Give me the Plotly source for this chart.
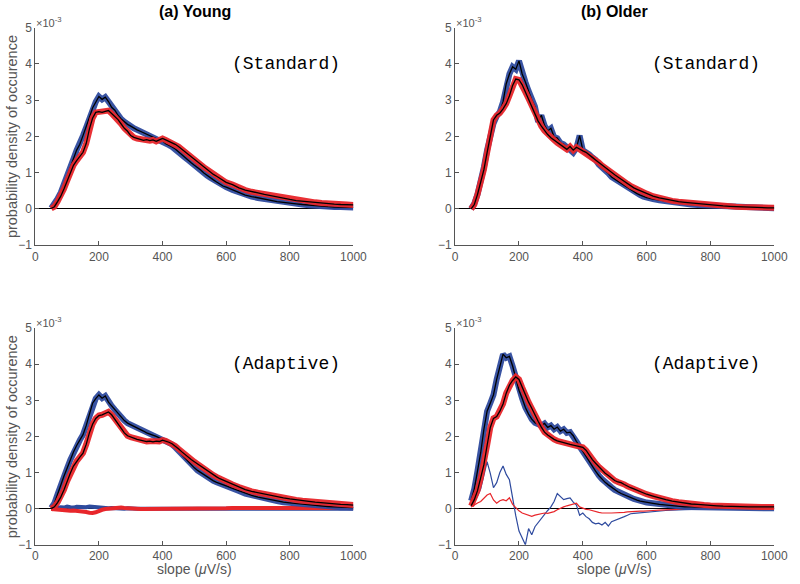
import plotly.graph_objects as go

# ---------------- data (values in units of 1e-3) ----------------
X = list(range(50, 601, 10)) + list(range(620, 1001, 20))

young_std_blue = [0.02, 0.12, 0.28, 0.45, 0.66, 0.90, 1.12, 1.38, 1.62, 1.78,
                  2.02, 2.25, 2.52, 2.78, 2.95, 3.10, 3.02, 3.08, 2.96, 2.80,
                  2.72, 2.58, 2.48, 2.40, 2.33, 2.28, 2.22, 2.18, 2.14, 2.10,
                  2.05, 2.02, 1.98, 1.94, 1.92, 1.88, 1.80, 1.76, 1.71, 1.65,
                  1.57, 1.50, 1.42, 1.35, 1.27, 1.20, 1.14, 1.07, 0.99, 0.92,
                  0.86, 0.80, 0.74, 0.68, 0.63, 0.60,
                  0.52, 0.45, 0.38, 0.34, 0.30, 0.27, 0.23, 0.20, 0.18, 0.15,
                  0.14, 0.12, 0.10, 0.08, 0.07, 0.06, 0.05, 0.05, 0.04, 0.04]
young_std_red = [0.01, 0.06, 0.20, 0.35, 0.55, 0.77, 1.00, 1.20, 1.33, 1.45,
                 1.56, 1.80, 2.20, 2.50, 2.66, 2.68, 2.66, 2.69, 2.71, 2.63,
                 2.55, 2.46, 2.34, 2.22, 2.14, 2.02, 1.97, 1.94, 1.92, 1.89,
                 1.91, 1.88, 1.90, 1.86, 1.90, 1.94, 1.90, 1.86, 1.84, 1.78,
                 1.72, 1.65, 1.57, 1.49, 1.42, 1.35, 1.30, 1.22, 1.15, 1.09,
                 1.02, 0.95, 0.90, 0.84, 0.78, 0.73,
                 0.67, 0.58, 0.52, 0.47, 0.44, 0.40, 0.36, 0.33, 0.29, 0.26,
                 0.23, 0.21, 0.19, 0.18, 0.16, 0.14, 0.13, 0.12, 0.12, 0.11]

young_ada_blue = [0.02, 0.15, 0.40, 0.68, 0.90, 1.12, 1.35, 1.57, 1.75, 1.90,
                  2.05, 2.30, 2.65, 2.92, 3.05, 3.15, 3.06, 3.12, 2.95, 2.85,
                  2.74, 2.62, 2.52, 2.44, 2.37, 2.33, 2.28, 2.24, 2.19, 2.15,
                  2.10, 2.07, 2.05, 2.00, 1.96, 1.94, 1.90, 1.86, 1.78, 1.70,
                  1.61, 1.50, 1.40, 1.30, 1.22, 1.13, 1.06, 1.00, 0.93, 0.87,
                  0.82, 0.77, 0.73, 0.69, 0.66, 0.63,
                  0.56, 0.49, 0.42, 0.37, 0.32, 0.28, 0.24, 0.21, 0.18, 0.16,
                  0.14, 0.12, 0.10, 0.08, 0.07, 0.06, 0.05, 0.04, 0.04, 0.03]
young_ada_red = [0.00, 0.05, 0.17, 0.32, 0.52, 0.76, 0.98, 1.18, 1.32, 1.43,
                 1.54, 1.78, 2.10, 2.34, 2.50, 2.58, 2.60, 2.64, 2.68, 2.60,
                 2.48, 2.36, 2.22, 2.10, 2.02, 1.98, 1.95, 1.92, 1.90, 1.88,
                 1.86, 1.87, 1.85, 1.87, 1.86, 1.90, 1.88, 1.84, 1.80, 1.74,
                 1.66, 1.58, 1.50, 1.44, 1.36, 1.30, 1.24, 1.17, 1.10, 1.04,
                 0.98, 0.93, 0.88, 0.83, 0.79, 0.76,
                 0.67, 0.60, 0.53, 0.48, 0.44, 0.40, 0.36, 0.33, 0.30, 0.27,
                 0.24, 0.22, 0.20, 0.18, 0.16, 0.15, 0.13, 0.12, 0.11, 0.10]
young_diff_blue = [0.00, 0.02, 0.03, 0.04, 0.03, 0.06, 0.04, 0.03, 0.05, 0.04,
                   0.05, 0.04, 0.06, 0.05, 0.03, 0.02, 0.03, 0.02, 0.01, 0.02,
                   0.01, 0.00, 0.01, 0.00, 0.01, 0.00, 0.01, 0.00, 0.00, 0.01,
                   0.00, 0.00, 0.01, 0.00, 0.00, 0.00, 0.01, 0.00, 0.00, 0.00,
                   0.00, 0.00, 0.00, 0.00, 0.00, 0.00, 0.00, 0.00, 0.00, 0.00,
                   0.00, 0.00, 0.00, 0.00, 0.00, 0.00,
                   0.00, 0.00, 0.00, 0.00, 0.00, 0.00, 0.00, 0.00, 0.00, 0.00,
                   0.00, 0.00, 0.00, 0.00, 0.00, 0.00, 0.00, 0.00, 0.00, 0.00]
young_diff_red = [-0.01, -0.02, -0.04, -0.05, -0.06, -0.07, -0.06, -0.05, -0.06, -0.05,
                  -0.06, -0.09, -0.11, -0.12, -0.10, -0.06, -0.03, -0.01, 0.00, 0.01,
                  0.02, 0.02, 0.03, 0.02, 0.01, 0.00, -0.01, -0.01, -0.01, -0.01,
                  -0.01, -0.01, -0.01, -0.01, -0.01, -0.01, -0.01, -0.01, -0.01, -0.01,
                  -0.01, 0.00, 0.00, 0.00, 0.00, 0.00, 0.01, 0.01, 0.01, 0.01,
                  0.01, 0.01, 0.01, 0.01, 0.01, 0.01,
                  0.02, 0.02, 0.02, 0.02, 0.02, 0.02, 0.02, 0.02, 0.02, 0.02,
                  0.02, 0.02, 0.02, 0.02, 0.02, 0.02, 0.02, 0.02, 0.02, 0.02]

older_std_blue = [0.00, 0.15, 0.40, 0.72, 1.15, 1.62, 2.00, 2.35, 2.55, 2.68,
                  2.95, 3.45, 3.72, 3.92, 3.85, 4.08, 3.72, 3.50, 3.25, 3.00,
                  2.82, 2.40, 2.58, 2.30, 2.15, 2.22, 1.98, 1.95, 1.82, 1.78,
                  1.70, 1.62, 1.55, 1.68, 2.02, 1.62, 1.58, 1.50, 1.42, 1.35,
                  1.22, 1.15, 1.06, 0.98, 0.88, 0.82, 0.76, 0.72, 0.64, 0.58,
                  0.52, 0.48, 0.42, 0.38, 0.34, 0.31,
                  0.27, 0.24, 0.21, 0.18, 0.16, 0.14, 0.12, 0.11, 0.10, 0.08,
                  0.07, 0.06, 0.05, 0.04, 0.04, 0.03, 0.03, 0.02, 0.02, 0.02]
older_std_red = [0.00, 0.12, 0.40, 0.72, 1.08, 1.55, 2.05, 2.45, 2.58, 2.64,
                 2.76, 2.90, 3.12, 3.40, 3.58, 3.56, 3.42, 3.22, 3.04, 2.85,
                 2.64, 2.42, 2.28, 2.15, 2.05, 1.96, 1.90, 1.82, 1.76, 1.70,
                 1.64, 1.72, 1.62, 1.70, 1.64, 1.60, 1.56, 1.48, 1.42, 1.35,
                 1.28, 1.20, 1.13, 1.07, 1.00, 0.94, 0.88, 0.82, 0.75, 0.69,
                 0.63, 0.58, 0.54, 0.50, 0.45, 0.42,
                 0.35, 0.30, 0.26, 0.22, 0.20, 0.18, 0.16, 0.14, 0.13, 0.11,
                 0.09, 0.08, 0.07, 0.06, 0.05, 0.04, 0.04, 0.03, 0.03, 0.03]

older_ada_blue = [0.22, 0.55, 1.05, 1.55, 2.20, 2.70, 2.92, 3.15, 3.58, 3.92,
                  4.28, 4.18, 4.22, 3.95, 3.62, 3.28, 3.05, 2.80, 2.62, 2.48,
                  2.38, 2.34, 2.30, 2.36, 2.25, 2.30, 2.20, 2.26, 2.15, 2.20,
                  2.10, 2.12, 2.02, 1.86, 1.72, 1.58, 1.43, 1.30, 1.16, 1.04,
                  0.92, 0.82, 0.73, 0.66, 0.59, 0.52, 0.47, 0.42, 0.38, 0.34,
                  0.31, 0.27, 0.24, 0.21, 0.19, 0.17,
                  0.15, 0.12, 0.10, 0.08, 0.07, 0.05, 0.05, 0.04, 0.04, 0.03,
                  0.03, 0.03, 0.02, 0.02, 0.02, 0.02, 0.02, 0.02, 0.01, 0.01]
older_ada_red = [0.08, 0.25, 0.50, 0.85, 1.22, 1.75, 2.25, 2.50, 2.55, 2.70,
                 2.90, 3.20, 3.42, 3.55, 3.65, 3.58, 3.36, 3.12, 2.95, 2.78,
                 2.58, 2.42, 2.26, 2.12, 2.04, 1.97, 1.92, 1.88, 1.85, 1.82,
                 1.80, 1.78, 1.76, 1.74, 1.72, 1.70, 1.62, 1.48, 1.36, 1.26,
                 1.16, 1.08, 0.98, 0.92, 0.84, 0.78, 0.74, 0.72, 0.67, 0.62,
                 0.58, 0.55, 0.51, 0.47, 0.43, 0.40,
                 0.35, 0.29, 0.25, 0.21, 0.18, 0.15, 0.13, 0.12, 0.10, 0.09,
                 0.08, 0.07, 0.06, 0.06, 0.05, 0.05, 0.05, 0.05, 0.05, 0.05]
older_diff_blue = [0.05, 0.20, 0.35, 0.55, 0.95, 1.30, 0.98, 0.58, 0.72, 1.00,
                   1.18, 0.95, 0.80, 0.25, -0.20, -0.62, -0.80, -1.00, -0.55, -0.72,
                   -0.50, -0.38, -0.26, -0.15, -0.05, 0.05, 0.20, 0.42, 0.32, 0.25,
                   0.28, 0.30, 0.18, 0.10, -0.18, -0.12, -0.22, -0.28, -0.38, -0.42,
                   -0.40, -0.45, -0.38, -0.48, -0.36, -0.33, -0.30, -0.26, -0.22, -0.18,
                   -0.14, -0.13, -0.12, -0.11, -0.10, -0.09,
                   -0.08, -0.06, -0.05, -0.04, -0.03, -0.02, -0.02, -0.01, 0.00, 0.00,
                   0.00, 0.00, 0.00, 0.00, 0.00, 0.00, 0.00, 0.00, 0.00, 0.00]
older_diff_red = [0.05, 0.11, 0.16, 0.20, 0.30, 0.38, 0.42, 0.24, 0.15, 0.22,
                  0.25, 0.22, 0.30, 0.12, 0.03, -0.06, -0.12, -0.15, -0.18, -0.21,
                  -0.18, -0.16, -0.14, -0.12, -0.13, -0.11, -0.08, -0.03, 0.02, 0.05,
                  0.08, 0.10, 0.12, 0.15, 0.05, 0.01, -0.02, -0.03, -0.06, -0.08,
                  -0.10, -0.12, -0.11, -0.12, -0.12, -0.12, -0.11, -0.12, -0.10, -0.09,
                  -0.08, -0.08, -0.08, -0.07, -0.07, -0.06,
                  -0.05, -0.04, -0.03, -0.02, -0.02, -0.01, -0.01, 0.00, 0.00, 0.00,
                  0.00, 0.00, 0.00, 0.00, 0.00, 0.00, 0.00, 0.00, 0.00, 0.00]

X_TICKS = [0, 200, 400, 600, 800, 1000]
Y_TICKS = [-1, 0, 1, 2, 3, 4, 5]
COLUMN_TITLES = ["(a) Young", "(b) Older"]
CONDITION_LABELS = ["(Standard)", "(Adaptive)"]

# ---------------- styling ----------------
BLUE = "#2f4b9f"
RED = "#e8262b"
AXC = "#555555"
FONT = "Liberation Sans, Arial, Helvetica, sans-serif"

fig = go.Figure()

panels = [
    ("", [0.04125, 0.4475], [0.5822, 0.964], young_std_blue, young_std_red, None, None, None),
    ("2", [0.5775, 0.985], [0.5822, 0.964], older_std_blue, older_std_red, None, None, None),
    ("3", [0.04125, 0.4475], [0.0565, 0.4366], young_ada_blue, young_ada_red,
     young_diff_blue, young_diff_red, 4),
    ("4", [0.5775, 0.985], [0.0565, 0.4366], older_ada_blue, older_ada_red,
     older_diff_blue, older_diff_red, 1.2),
]

for i, (s, xd, yd, mb, mr, db, dr, dw) in enumerate(panels):
    xa, ya = "x" + s, "y" + s
    if db is not None:
        fig.add_trace(go.Scatter(x=X, y=db, mode="lines", xaxis=xa, yaxis=ya,
                                 line=dict(color=BLUE, width=dw), showlegend=False))
        fig.add_trace(go.Scatter(x=X, y=dr, mode="lines", xaxis=xa, yaxis=ya,
                                 line=dict(color=RED, width=dw), showlegend=False))
    for vals, col in ((mb, BLUE), (mr, RED)):
        fig.add_trace(go.Scatter(x=X, y=vals, mode="lines", xaxis=xa, yaxis=ya,
                                 line=dict(color=col, width=6), opacity=0.95,
                                 showlegend=False))
        fig.add_trace(go.Scatter(x=X, y=vals, mode="lines", xaxis=xa, yaxis=ya,
                                 line=dict(color="black", width=1.3),
                                 showlegend=False))

    axis_common = dict(showline=True, linecolor=AXC, linewidth=1, ticks="inside",
                       ticklen=4, tickcolor=AXC, showgrid=False, mirror=False,
                       tickfont=dict(family=FONT, size=12, color=AXC))
    fig.layout["xaxis" + s] = dict(domain=xd, anchor=ya, range=[0, 1000],
                                   tickvals=X_TICKS, zeroline=False, **axis_common)
    fig.layout["yaxis" + s] = dict(domain=yd, anchor=xa, range=[-1, 5],
                                   tickvals=Y_TICKS, zeroline=True,
                                   zerolinecolor="black", zerolinewidth=1.3,
                                   **axis_common)

    fig.add_annotation(text="×10<sup>-3</sup>", xref=xa + " domain", yref=ya + " domain",
                       x=0, y=1, xanchor="left", yanchor="bottom", xshift=-1, yshift=-3,
                       showarrow=False, font=dict(family=FONT, size=11, color=AXC))
    fig.add_annotation(text=CONDITION_LABELS[i // 2], xref=xa, yref=ya, x=612, y=4.0,
                       xanchor="left", yanchor="middle", showarrow=False,
                       font=dict(family="Liberation Mono, Courier New, monospace",
                                 size=18, color="black"))

for cx, t in zip([0.245, 0.781], COLUMN_TITLES):
    fig.add_annotation(text="<b>" + t + "</b>", xref="paper", yref="paper",
                       x=cx, y=0.992, xanchor="center", yanchor="middle", showarrow=False,
                       font=dict(family=FONT, size=16, color="black"))
for cx in [0.245, 0.781]:
    fig.add_annotation(text="slope (<i>μ</i>V/s)", xref="paper", yref="paper",
                       x=cx, y=0.0, xanchor="center", yanchor="bottom", yshift=-2,
                       showarrow=False, font=dict(family=FONT, size=14, color=AXC))
for cy in [0.7731, 0.2466]:
    fig.add_annotation(text="probability density of occurence", xref="paper", yref="paper",
                       x=0.0125, y=cy, xanchor="center", yanchor="middle", textangle=-90,
                       showarrow=False, font=dict(family=FONT, size=14.5, color=AXC))

fig.update_layout(width=800, height=584, margin=dict(l=0, r=0, t=0, b=0),
                  paper_bgcolor="white", plot_bgcolor="white", showlegend=False)

fig.write_html("out.html", config={"displayModeBar": False},
               post_script="document.body.style.margin='0';document.body.style.overflow='hidden';")
